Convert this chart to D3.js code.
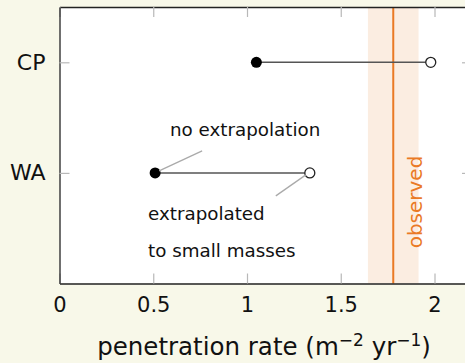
<!DOCTYPE html>
<html><head><meta charset="utf-8">
<script src="https://cdn.jsdelivr.net/npm/d3@7"></script>
<style>body{margin:0;background:#f8f8e9;}svg{display:block;font-family:"DejaVu Sans",sans-serif;}</style>
</head><body>
<svg id="c" width="465" height="363"></svg>
<script>
const categories = ["CP", "WA"];
const categoryPos = [2, 1];
const noExtrapolation = [1.05, 0.51];
const extrapolated = [1.98, 1.335];
const observed = 1.78;
const observedLow = 1.645;
const observedHigh = 1.915;
const xTicks = [0, 0.5, 1, 1.5, 2];
const xTickLabels = ["0", "0.5", "1", "1.5", "2"];

const svg = d3.select("#c");
const L = 59.5, R = 472, T = 7, B = 283.5;
const x = d3.scaleLinear().domain([0, 2.2]).range([L, R]);
const y = d3.scaleLinear().domain([0, 2.5]).range([B, T]);

svg.append("rect").attr("x", L).attr("y", T).attr("width", R - L).attr("height", B - T).attr("fill", "#fff");
// observed band
svg.append("rect").attr("x", x(observedLow)).attr("y", T).attr("width", x(observedHigh) - x(observedLow))
  .attr("height", B - T).attr("fill", "#fbede1");
svg.append("line").attr("x1", x(observed)).attr("x2", x(observed)).attr("y1", T).attr("y2", B)
  .attr("stroke", "#ea7a25").attr("stroke-width", 2);

// axes
const gb = svg.append("g").attr("transform", `translate(0,${B})`)
  .call(d3.axisBottom(x).tickValues(xTicks).tickFormat((d, i) => xTickLabels[i]).tickSizeInner(-10).tickSizeOuter(0).tickPadding(14));
const gt = svg.append("g").attr("transform", `translate(0,${T})`)
  .call(d3.axisTop(x).tickValues(xTicks).tickFormat("").tickSizeInner(-10).tickSizeOuter(0));
const gl = svg.append("g").attr("transform", `translate(${L},0)`)
  .call(d3.axisLeft(y).tickValues(categoryPos).tickFormat((d, i) => categories[i]).tickSizeInner(-10).tickSizeOuter(0).tickPadding(14));
const gr = svg.append("g").attr("transform", `translate(${R},0)`)
  .call(d3.axisRight(y).tickValues(categoryPos).tickFormat("").tickSizeInner(-10).tickSizeOuter(0));
[gb, gt, gl, gr].forEach(g => {
  g.select(".domain").attr("stroke", "#222").attr("stroke-width", 1.3);
  g.selectAll(".tick line").attr("stroke", "#b8b8b8").attr("stroke-width", 1.2);
  g.selectAll("text").attr("fill", "#111").attr("font-size", 21).attr("font-family", "DejaVu Sans, sans-serif");
});
gl.selectAll("text").attr("font-size", 22);
gb.selectAll(".tick text").attr("dy", "0.71em");

// lines & points
categories.forEach((c, i) => {
  const yy = y(categoryPos[i]);
  svg.append("line").attr("x1", x(noExtrapolation[i])).attr("x2", x(extrapolated[i])).attr("y1", yy).attr("y2", yy)
    .attr("stroke", "#555").attr("stroke-width", 1.5);
  svg.append("circle").attr("cx", x(noExtrapolation[i])).attr("cy", yy).attr("r", 5.5).attr("fill", "#000");
  svg.append("circle").attr("cx", x(extrapolated[i])).attr("cy", yy).attr("r", 5).attr("fill", "#fff")
    .attr("stroke", "#222").attr("stroke-width", 1.3);
});

// annotations
const wy = y(1);
svg.append("line").attr("x1", x(noExtrapolation[1]) + 4).attr("y1", wy - 2).attr("x2", x(noExtrapolation[1]) + 47).attr("y2", wy - 22)
  .attr("stroke", "#aaa").attr("stroke-width", 1.3);
svg.append("text").attr("x", 170).attr("y", 136).attr("font-size", 18.3).attr("fill", "#111").text("no extrapolation");
svg.append("line").attr("x1", x(extrapolated[1]) - 4).attr("y1", wy + 2).attr("x2", x(extrapolated[1]) - 34).attr("y2", wy + 23)
  .attr("stroke", "#aaa").attr("stroke-width", 1.3);
svg.append("text").attr("x", 148).attr("y", 220).attr("font-size", 18.3).attr("fill", "#111").text("extrapolated");
svg.append("text").attr("x", 148).attr("y", 257).attr("font-size", 18.3).attr("fill", "#111").text("to small masses");

svg.append("text").attr("transform", `translate(${x(observed) + 29},202) rotate(-90)`).attr("text-anchor", "middle")
  .attr("font-size", 20).attr("fill", "#ea7a25").text("observed");

// axis title
const t = svg.append("text").attr("x", 264).attr("y", 355).attr("text-anchor", "middle").attr("font-size", 24.5).attr("fill", "#111");
t.append("tspan").text("penetration rate (m");
t.append("tspan").attr("dy", -9).attr("font-size", 17).text("−2");
t.append("tspan").attr("dy", 9).text(" yr");
t.append("tspan").attr("dy", -9).attr("font-size", 17).text("−1");
t.append("tspan").attr("dy", 9).text(")");
</script>
</body></html>
